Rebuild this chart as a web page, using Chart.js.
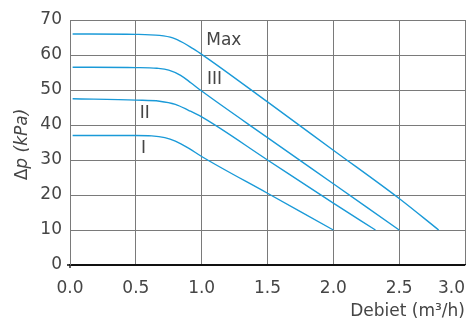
<!DOCTYPE html>
<html>
<head>
<meta charset="utf-8">
<script src="https://cdn.jsdelivr.net/npm/chart.js@4.4.1/dist/chart.umd.min.js"></script>
<style>
  html, body { margin: 0; padding: 0; background: #fff; }
</style>
</head>
<body>
<canvas id="c" width="466" height="324"></canvas>
<script>
// Pump curves: pressure drop vs flow, four speed settings.
const X_TICKS = [0, 0.5, 1.0, 1.5, 2.0, 2.5, 3.0];
const Y_MIN = 0, Y_MAX = 70, Y_STEP = 10;

const maxX = [0.02, 0.5, 0.68, 0.78, 0.86, 0.93, 1.0, 1.5, 2.0, 2.5, 2.8];
const maxY = [66, 65.9, 65.6, 64.9, 63.5, 61.9, 60.2, 46.6, 32.8, 19, 10];

const s3X = [0.02, 0.5, 0.66, 0.75, 0.84, 0.92, 1.0, 1.5, 2.0, 2.5];
const s3Y = [56.5, 56.4, 56.2, 55.7, 54.2, 52.0, 49.7, 36.4, 23.2, 10];

const s2X = [0.02, 0.5, 0.68, 0.8, 0.9, 1.0, 1.5, 2.0, 2.32];
const s2Y = [47.5, 47.1, 46.8, 45.9, 44.2, 42.3, 30, 17.7, 10];

const s1X = [0.02, 0.5, 0.62, 0.72, 0.8, 0.9, 1.0, 1.5, 2.0];
const s1Y = [37, 37, 36.9, 36.4, 35.4, 33.4, 31.0, 20.5, 10];

const CURVE_NAMES = ['Max', 'III', 'II', 'I'];

const X_TITLE = 'Debiet (m\u00B3/h)';
const Y_TITLE_A = '\u0394';
const Y_TITLE_B = 'p (kPa)';

const LINE_COL = '#1a9ad8';
const GRID_COL = '#7a7a7a';
const TEXT_COL = '#454545';
const FONT = '"DejaVu Sans", sans-serif';

// where the curve names sit, in data units
const NAME_ANCHORS = [
  { x: 1.035, y: 64.0 },
  { x: 1.04, y: 53.0 },
  { x: 0.53, y: 43.3 },
  { x: 0.54, y: 33.4 },
];

function pts(xs, ys) { return xs.map((v, i) => ({ x: v, y: ys[i] })); }

function fmtX(v) { return v.toFixed(1); }

const textPlugin = {
  id: 'textPlugin',
  afterDraw(chart) {
    const { ctx } = chart;
    const xs = chart.scales.x, ys = chart.scales.y;
    ctx.save();
    ctx.fillStyle = TEXT_COL;
    ctx.font = '17px ' + FONT;

    // x tick labels, last one kept inside the canvas
    ctx.textAlign = 'left';
    ctx.textBaseline = 'alphabetic';
    X_TICKS.forEach(v => {
      const t = fmtX(v);
      const w = ctx.measureText(t).width;
      let px = xs.getPixelForValue(v) - w / 2;
      px = Math.min(px, chart.width - w - 1);
      ctx.fillText(t, px, 293);
    });

    // x title
    ctx.textAlign = 'right';
    ctx.fillText(X_TITLE, chart.width - 1, 316);

    // y title: upright delta + italic rest, rotated
    ctx.save();
    ctx.translate(23, 144.5);
    ctx.rotate(-Math.PI / 2);
    ctx.textBaseline = 'middle';
    ctx.textAlign = 'left';
    ctx.font = '17px ' + FONT;
    const wa = ctx.measureText(Y_TITLE_A).width;
    ctx.font = 'italic 17px ' + FONT;
    const wb = ctx.measureText(Y_TITLE_B).width;
    const start = -(wa + wb) / 2;
    ctx.font = '17px ' + FONT;
    ctx.fillText(Y_TITLE_A, start, 0);
    ctx.font = 'italic 17px ' + FONT;
    ctx.fillText(Y_TITLE_B, start + wa, 0);
    ctx.restore();

    // small tick at the origin
    const ox = xs.getPixelForValue(0), oy = ys.getPixelForValue(0);
    ctx.strokeStyle = '#111';
    ctx.lineWidth = 1.3;
    ctx.beginPath();
    ctx.moveTo(ox - 3, oy); ctx.lineTo(ox, oy);
    ctx.moveTo(ox, oy); ctx.lineTo(ox, oy + 3);
    ctx.stroke();

    // curve names
    ctx.font = '17px ' + FONT;
    ctx.textAlign = 'left';
    ctx.textBaseline = 'middle';
    CURVE_NAMES.forEach((n, i) => {
      const a = NAME_ANCHORS[i];
      ctx.fillText(n, xs.getPixelForValue(a.x), ys.getPixelForValue(a.y));
    });
    ctx.restore();
  }
};

function curve(label, xs, ys) {
  return {
    label,
    data: pts(xs, ys),
    borderColor: LINE_COL,
    borderWidth: 1.4,
    pointRadius: 0,
    fill: false,
    cubicInterpolationMode: 'monotone',
  };
}

new Chart(document.getElementById('c'), {
  type: 'line',
  data: {
    datasets: [
      curve('Max', maxX, maxY),
      curve('III', s3X, s3Y),
      curve('II', s2X, s2Y),
      curve('I', s1X, s1Y),
    ],
  },
  options: {
    responsive: false,
    animation: false,
    devicePixelRatio: 1,
    layout: { padding: { top: 20, right: 1, left: 0, bottom: 0 } },
    plugins: { legend: { display: false }, tooltip: { enabled: false } },
    scales: {
      x: {
        type: 'linear',
        min: 0, max: 3,
        ticks: { display: false, stepSize: 0.5 },
        grid: { color: GRID_COL, lineWidth: 1, drawTicks: false },
        border: { color: '#111', width: 1.3 },
        afterFit(s) { s.height = 59; s.paddingLeft = 0; s.paddingRight = 0; },
      },
      y: {
        min: Y_MIN, max: Y_MAX,
        ticks: {
          stepSize: Y_STEP,
          color: TEXT_COL,
          padding: 8,
          font: { size: 17, family: FONT },
        },
        grid: {
          color: c => (c.tick && c.tick.value === 0 ? '#111' : GRID_COL),
          lineWidth: 1,
          drawTicks: false,
        },
        border: { color: GRID_COL, width: 1 },
        afterFit(s) { s.width = 70; s.paddingTop = 0; s.paddingBottom = 0; },
      },
    },
  },
  plugins: [textPlugin],
});
</script>
</body>
</html>
